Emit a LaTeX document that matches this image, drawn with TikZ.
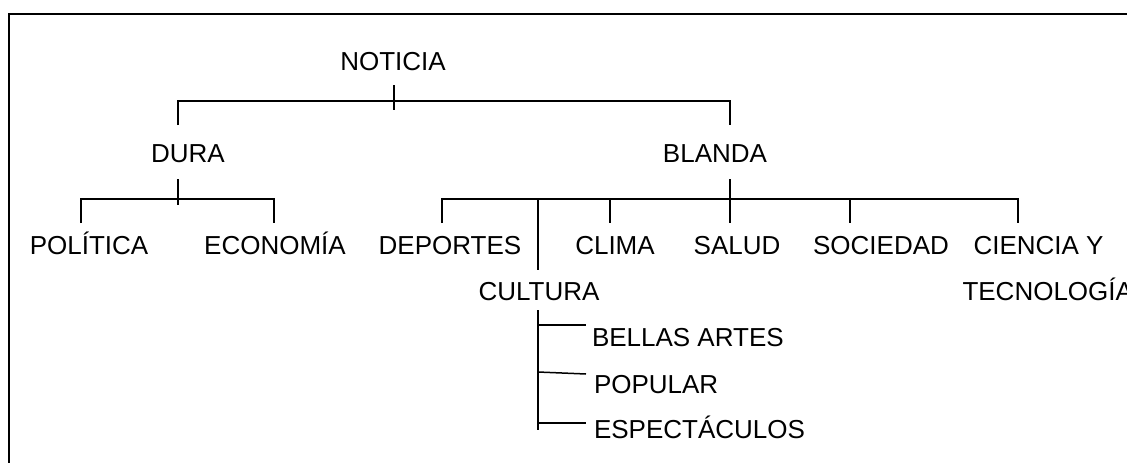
\documentclass[tikz,border=0pt]{standalone}
\usepackage{fontspec}
\setmainfont{Liberation Sans}
\begin{document}
\begin{tikzpicture}[x=1pt,y=-1pt,
  lbl/.style={inner sep=0pt,outer sep=0pt,font=\fontsize{26}{30}\selectfont,anchor=base},
  lblw/.style={lbl,anchor=base west},
  conn/.style={line width=1.5pt,line cap=butt,line join=miter},
  frame/.style={line width=2pt}]
\clip (0,0) rectangle (1127,463);
\fill[white] (0,0) rectangle (1127,463);
% frame
\coordinate (fbl) at (9,470);
\coordinate (ftl) at (9,14);
\coordinate (ftr) at (1135,14);
\draw[frame] (fbl) -- (ftl) -- (ftr);
% labels
\node[lbl] (noticia) at (393,70) {NOTICIA};
\node[lbl] (dura) at (188,162) {DURA};
\node[lbl] (blanda) at (715,162) {BLANDA};
\node[lbl] (politica) at (89,254) {POLÍTICA};
\node[lbl] (economia) at (275,254) {ECONOMÍA};
\node[lbl] (deportes) at (450,254) {DEPORTES};
\node[lbl] (cultura) at (539,300) {CULTURA};
\node[lbl] (clima) at (615,254) {CLIMA};
\node[lbl] (salud) at (737,254) {SALUD};
\node[lbl] (sociedad) at (881,254) {SOCIEDAD};
\node[lblw] (ciencia) at (973.5,254) {CIENCIA Y};
\node[lblw] (tecno) at (962.5,300) {TECNOLOGÍA};
\node[lblw] (bellas) at (592,346) {BELLAS ARTES};
\node[lblw] (popular) at (594,393) {POPULAR};
\node[lblw] (espect) at (594,438) {ESPECTÁCULOS};
% NOTICIA bracket
\coordinate (n1) at (394,85);
\coordinate (n2) at (394,110);
\coordinate (nl) at (178,101);
\coordinate (nr) at (730,101);
\coordinate (nld) at (178,125);
\coordinate (nrd) at (730,125);
\draw[conn] (n1) -- (n2);
\draw[conn] (nld) -- (nl) -- (nr) -- (nrd);
% DURA bracket
\coordinate (d1) at (178,179);
\coordinate (d2) at (178,205);
\coordinate (dl) at (81,199);
\coordinate (dr) at (274,199);
\coordinate (dld) at (81,223);
\coordinate (drd) at (274,223);
\draw[conn] (d1) -- (d2);
\draw[conn] (dld) -- (dl) -- (dr) -- (drd);
% BLANDA bracket
\coordinate (b1) at (730,179);
\coordinate (b2) at (730,223);
\coordinate (bl) at (442,199);
\coordinate (br) at (1018,199);
\coordinate (bld) at (442,223);
\coordinate (brd) at (1018,223);
\coordinate (bc) at (538,199);
\coordinate (bcd) at (538,270);
\coordinate (bk) at (610,199);
\coordinate (bkd) at (610,223);
\coordinate (bs) at (850,199);
\coordinate (bsd) at (850,223);
\draw[conn] (b1) -- (b2);
\draw[conn] (bld) -- (bl) -- (br) -- (brd);
\draw[conn] (bc) -- (bcd);
\draw[conn] (bk) -- (bkd);
\draw[conn] (bs) -- (bsd);
% CULTURA bracket
\coordinate (c1) at (538,310);
\coordinate (c2) at (538,430);
\coordinate (ca) at (538,325);
\coordinate (cae) at (586,325);
\coordinate (cb) at (538,372);
\coordinate (cbe) at (586,374);
\coordinate (cc) at (538,423);
\coordinate (cce) at (586,423);
\draw[conn] (c1) -- (c2);
\draw[conn] (ca) -- (cae);
\draw[conn] (cb) -- (cbe);
\draw[conn] (cc) -- (cce);
\end{tikzpicture}
\end{document}
